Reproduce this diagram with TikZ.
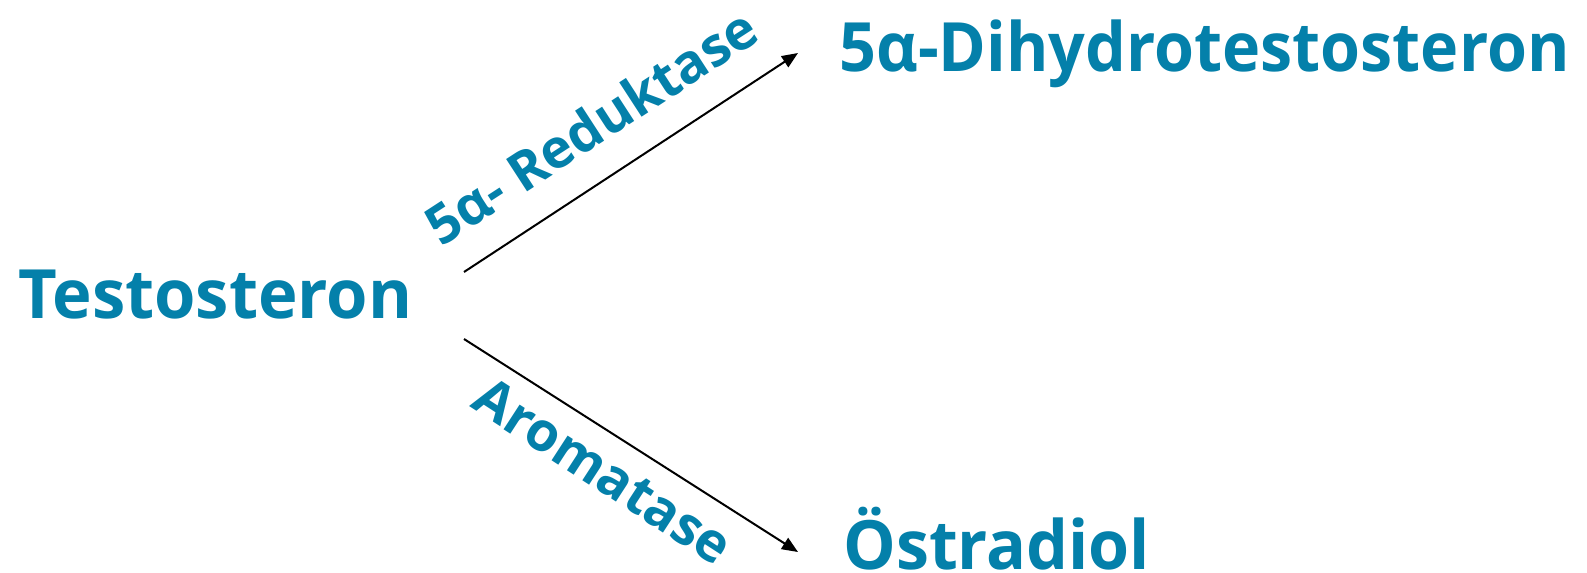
\documentclass[tikz,border=0pt]{standalone}
\usepackage{fontspec}
\setmainfont{Open Sans}
\usetikzlibrary{arrows.meta}
\definecolor{teal1}{RGB}{4,128,170}
\begin{document}
\begin{tikzpicture}[x=0.5pt,y=-0.5pt,
  compound/.style={font=\bfseries\fontsize{34}{40}\selectfont, text=teal1, inner sep=0pt},
  enzyme/.style={font=\bfseries\fontsize{27}{32}\selectfont, text=teal1, inner sep=0pt},
  arr/.style={line width=1pt, -{Triangle[length=8pt,width=6.5pt]}}]
\useasboundingbox (0,0) rectangle (1587,573);
% texts
\node[compound, anchor=base west] (testo) at (18,318) {\scalebox{0.985}[1]{Testosteron}};
\node[compound, anchor=base west] (dht) at (839,71) {\scalebox{0.95}[1]{5α-Dihydrotestosteron}};
\node[compound, anchor=base west] (oest) at (843,569) {\scalebox{0.975}[1]{Östradiol}};
\node[enzyme, anchor=base, rotate=33] (red) at (602,143) {5α- Reduktase};
\node[enzyme, anchor=base, rotate=-33] (aro) at (593,487) {Aromatase};
% arrows
\coordinate (s1) at (464,272);
\coordinate (e1) at (798,53);
\coordinate (s2) at (464,339);
\coordinate (e2) at (798,552);
\draw[arr] (s1) -- (e1);
\draw[arr] (s2) -- (e2);
\end{tikzpicture}
\end{document}
